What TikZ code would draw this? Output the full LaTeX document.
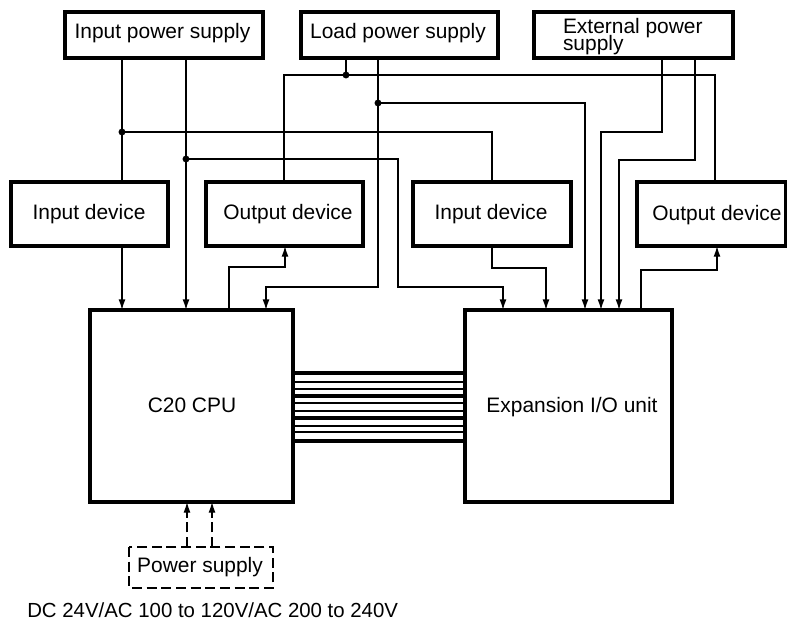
\documentclass[tikz,border=0pt]{standalone}
\usepackage{fontspec}
\setmainfont{Liberation Sans}
\usetikzlibrary{arrows.meta,calc}
\tikzset{
  x=0.75pt,y=-0.75pt,
  boxa/.style={inner sep=0pt,outer sep=0pt},
  boxline/.style={draw=black,line width=2.3pt,line join=miter},
  boxtext/.style={font=\fontsize{15.7}{12}\selectfont,inner sep=0pt,outer sep=0pt},
  wire/.style={draw=black,line width=1pt},
  arrowwire/.style={wire,-{Latex[length=8pt,width=5.2pt]}},
  junction/.style={circle,fill=black,inner sep=0pt,outer sep=0pt,minimum size=5.2pt},
  bus/.style={draw=black,line width=1pt},
  busedge/.style={draw=black,line width=2.3pt},
  dashwire/.style={draw=black,line width=0.8pt,dash pattern=on 7.5pt off 3.5pt},
}
\newcommand{\mybox}[5]{\node[boxa,minimum width=#4*0.75pt-#2*0.75pt,minimum height=#5*0.75pt-#3*0.75pt,anchor=north west] (#1) at (#2,#3) {}; \draw[boxline] (#1.north west) rectangle (#1.south east);}
\newcommand{\boxlabel}[3]{\node[boxtext] (#1) at (#2) {#3};}
\begin{document}
\begin{tikzpicture}
\useasboundingbox (0,0) rectangle (787,621);
% boxes
\mybox{ips}{65}{12}{263}{58}\boxlabel{ipst}{162.5,33.5}{Input power supply}
\mybox{lps}{301}{12}{498}{58}\boxlabel{lpst}{398,33.5}{Load power supply}
\mybox{eps}{534}{12}{733}{58}\node[boxtext,align=left,anchor=west] (epst) at (563,37) {External power\\[-3pt]supply};
\mybox{idl}{11}{182}{168}{246}\boxlabel{idlt}{89,214}{Input device}
\mybox{odl}{206}{182}{363}{246}\boxlabel{odlt}{288,214}{Output device}
\mybox{idr}{413}{182}{571}{246}\boxlabel{idrt}{491,214}{Input device}
\mybox{odr}{637}{182}{786}{246}\boxlabel{odrt}{717,215}{Output device}
\mybox{cpu}{90}{310}{293}{502}\boxlabel{cput}{192,405}{C20 CPU}
\mybox{exp}{465}{310}{672}{502}\boxlabel{expt}{572,407}{Expansion I/O unit}
% junctions
\node[junction] (ja) at (122,132) {};
\node[junction] (jb) at (186,159) {};
\node[junction] (jc) at (346,75) {};
\node[junction] (jd) at (378,103) {};
% named bends and ports
\coordinate (xa) at (284,0);
\coordinate (xb) at (715,0);
\coordinate (xc) at (492,0);
\coordinate (xd) at (585,0);
\coordinate (xe) at (662,0);
\coordinate (xf) at (601,0);
\coordinate (xg) at (695,0);
\coordinate (xh) at (619,0);
\coordinate (xi) at (398,0);
\coordinate (xj) at (503,0);
\coordinate (xk) at (266,0);
\coordinate (xl) at (229,0);
\coordinate (xm) at (285,0);
\coordinate (xn) at (546,0);
\coordinate (xo) at (641,0);
\coordinate (xp) at (717,0);
\coordinate (ya) at (0,287);
\coordinate (yb) at (0,267);
\coordinate (yc) at (0,268);
\coordinate (yd) at (0,270);
\coordinate (ye) at (0,132);
\coordinate (yf) at (0,160);
% input power supply
\draw[wire] (ips.south -| ja) -- (ja) -- (idl.north -| ja);
\draw[arrowwire] (idl.south -| ja) -- (cpu.north -| ja);
\draw[arrowwire] (ips.south -| jb) -- (cpu.north -| jb);
\draw[wire] (ja) -| (idr.north -| xc);
\draw[arrowwire] (jb.center) -- (jb.center -| xi) -- (ya -| xi) -- (ya -| xj) -- (exp.north -| xj);
% load power supply
\draw[wire] (lps.south -| jc) -- (jc);
\draw[wire] (odl.north -| xa) -- (jc -| xa) -- (jc -| xb) -- (odr.north -| xb);
\draw[arrowwire] (lps.south -| jd) -- (ya -| jd) -- (ya -| xk) -- (cpu.north -| xk);
\draw[arrowwire] (jd) -- (jd -| xd) -- (exp.north -| xd);
% external power supply
\draw[arrowwire] (eps.south -| xe) -- (ye -| xe) -- (ye -| xf) -- (exp.north -| xf);
\draw[arrowwire] (eps.south -| xg) -- (yf -| xg) -- (yf -| xh) -- (exp.north -| xh);
% device links
\draw[arrowwire] (cpu.north -| xl) -- (yb -| xl) -- (yb -| xm) -- (odl.south -| xm);
\draw[arrowwire] (idr.south -| xc) -- (yc -| xc) -- (yc -| xn) -- (exp.north -| xn);
\draw[arrowwire] (exp.north -| xo) -- (yd -| xo) -- (yd -| xp) -- (odr.south -| xp);
% bus
\foreach \yy/\sty in {373/busedge,382/bus,389/bus,396/busedge,403/bus,411/bus,418/busedge,426/bus,432/bus,441/busedge}{
  \coordinate (by) at (0,\yy);
  \draw[\sty] (cpu.east |- by) -- (exp.west |- by);
}
% power supply
\node[boxa,minimum width=108pt,minimum height=30.75pt,anchor=north west] (psu) at (129,547) {};
\draw[dashwire] (psu.north west) rectangle (psu.south east);
\boxlabel{psut}{200,567}{Power supply}
\coordinate (xq) at (187,0);
\coordinate (xr) at (212,0);
\draw[dashwire,arrows={-{Latex[length=8pt,width=5.2pt]}}] (psu.north -| xq) -- (cpu.south -| xq);
\draw[dashwire,arrows={-{Latex[length=8pt,width=5.2pt]}}] (psu.north -| xr) -- (cpu.south -| xr);
\node[font=\fontsize{15.3}{13}\selectfont,anchor=west,inner sep=0pt] (lab) at (27,610) {DC 24V/AC 100 to 120V/AC 200 to 240V};
\end{tikzpicture}
\end{document}
